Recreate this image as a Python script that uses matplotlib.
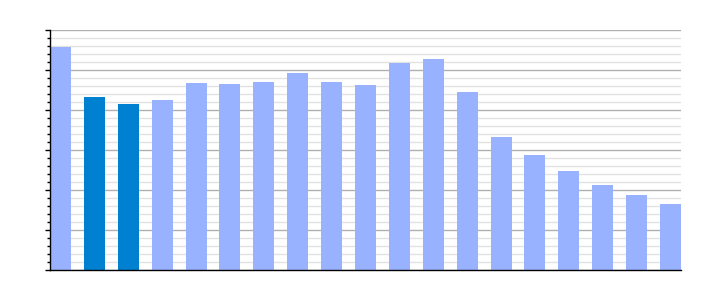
import matplotlib
matplotlib.use('Agg')
import matplotlib.pyplot as plt
from matplotlib.ticker import MultipleLocator, NullFormatter

# Bar heights (axis 0..60, no labels shown)
values = [55.75, 43.25, 41.5, 42.5, 46.75, 46.5, 47.0, 49.25, 47.0, 46.25,
          51.75, 52.75, 44.5, 33.25, 28.75, 24.75, 21.25, 18.75, 16.5]
highlight = [False, True, True, False, False, False, False, False, False, False,
             False, False, False, False, False, False, False, False, False]

light = '#99B2FF'
dark = '#0080D0'
colors = [dark if h else light for h in highlight]

fig = plt.figure(figsize=(7.1, 3.0), dpi=100)
ax = fig.add_axes([50 / 710, 30 / 300, 631 / 710, 240 / 300])

x = list(range(len(values)))
bar_w = 0.62
ax.bar(x, values, width=bar_w, color=colors, zorder=2)

ax.set_xlim(-bar_w / 2, len(values) - 1 + bar_w / 2)
ax.set_ylim(0, 60)

# Grid: major every 10, minor every 2
ax.yaxis.set_major_locator(MultipleLocator(10))
ax.yaxis.set_minor_locator(MultipleLocator(2))
ax.yaxis.set_major_formatter(NullFormatter())
ax.grid(True, which='major', axis='y', color='#B0B0B0', linewidth=1.0, zorder=0)
ax.grid(True, which='minor', axis='y', color='#E2E2E2', linewidth=1.0, zorder=0)
ax.set_axisbelow(True)

ax.tick_params(axis='y', which='major', length=3.6, width=1.0, color='black')
ax.tick_params(axis='y', which='minor', length=2.2, width=1.0, color='black')
ax.tick_params(axis='x', which='both', length=0, labelbottom=False)

for side in ['top', 'right']:
    ax.spines[side].set_visible(False)
ax.spines['left'].set_linewidth(1.0)
ax.spines['bottom'].set_linewidth(1.0)

fig.savefig('out.png', dpi=100)
